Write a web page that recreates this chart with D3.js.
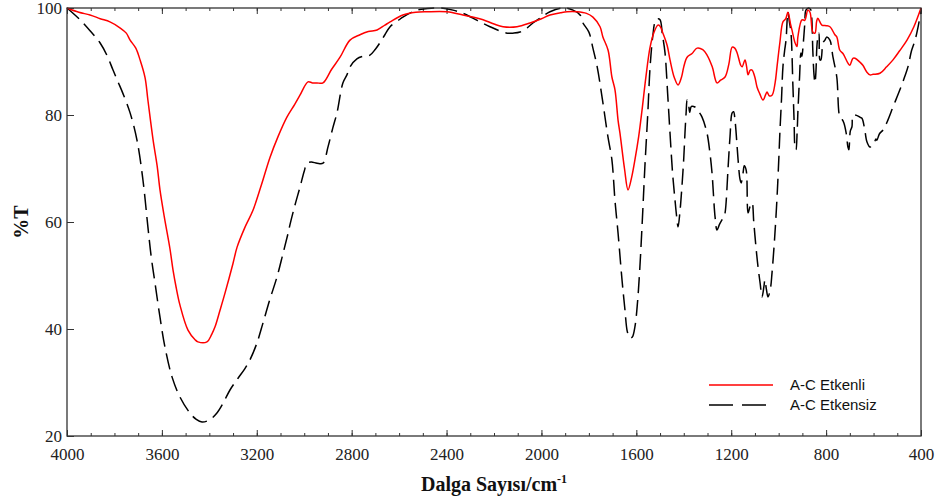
<!DOCTYPE html>
<html><head><meta charset="utf-8">
<script src="https://cdn.jsdelivr.net/npm/d3@7"></script>
<style>
body{margin:0;background:#fff;}
svg{display:block;}
</style></head>
<body>
<svg id="chart" width="940" height="504"></svg>
<script>
// ---------- DATA ----------
const seriesNames = ["A-C Etkenli", "A-C Etkensiz"];
const seriesColors = ["#ff0000", "#000000"];
const xTickValues = [4000, 3600, 3200, 2800, 2400, 2000, 1600, 1200, 800, 400];
const yTickValues = [20, 40, 60, 80, 100];
const xTitle = "Dalga Sayısı/cm";
const yTitle = "%T";

// Wavenumber (cm-1), %T pairs
const etkenliWn = [4000,3950,3903,3860,3819,3777,3750,3734,3710,3692,3671,3659,3637,3620,3608,3590,3566,3553,3540,3524,3490,3460,3448,3410,3390,3376,3355,3334,3300,3283,3250,3216,3180,3144,3110,3073,3040,3018,2984,2965,2946,2921,2885,2849,2807,2765,2730,2693,2660,2638,2584,2530,2483,2398,2331,2290,2246,2200,2162,2103,2048,2000,1964,1920,1892,1850,1810,1783,1753,1741,1719,1703,1690,1677,1669,1650,1635,1620,1606,1590,1576,1560,1542,1525,1509,1500,1488,1470,1458,1440,1424,1410,1400,1386,1365,1344,1320,1302,1280,1260,1245,1226,1210,1196,1185,1175,1160,1154,1142,1135,1129,1120,1112,1100,1091,1080,1066,1055,1049,1040,1028,1015,1007,995,982,970,961,950,944,931,923,919,902,890,877,868,856,847,840,835,818,800,784,763,755,742,729,708,700,687,678,658,645,628,615,602,573,545,518,490,459,430,400];
const etkenliT  = [100,99.2,98.7,98.0,97.4,96.3,95.3,94,92.5,90.3,87,82.8,75.3,70.5,66,61,55,51,47.8,44.5,39.8,38,37.6,37.6,39,40.4,43.5,46.7,52.3,55.3,59,62.2,67,72.1,76,79.6,82,83.7,86.2,86,86,86,88.5,90.8,94,95,95.6,95.9,96.8,97.4,98.7,99.2,99.3,99.3,98.7,98.3,97.8,97.0,96.5,96.5,97.2,98,98.7,99.1,99.3,99.3,99.0,98.3,96.5,94.6,92.1,87.1,84.7,79,76.6,70,66,68.3,71.6,76,80.9,87,92.7,95.5,96.8,96.6,95.3,93,90.3,87,85.6,87,89,90.8,91.5,92.5,92.2,91.2,89,86,86.5,87.1,89.5,92.7,92.5,91.6,89.3,89,90.3,89,87.5,88.4,88.4,87,85.2,84,82.8,83.8,84.3,83.6,83.7,86,89,93.5,97.4,98,99.2,97,95.9,93.5,92.8,94.6,97.8,97.7,99.6,99.2,95.5,95.3,97.5,98.1,96.8,96.7,96.5,95,94.6,92.1,91.5,89.7,89.3,90.6,90.6,89.9,89.3,88,87.5,87.6,87.8,89,90.3,92,94,96.5,100];

const etkensizWn = [4000,3945,3900,3861,3830,3806,3785,3764,3734,3705,3680,3659,3645,3629,3608,3587,3557,3524,3482,3455,3431,3400,3368,3340,3313,3279,3250,3229,3200,3174,3145,3115,3090,3068,3060,3040,3018,3000,2988,2970,2946,2921,2900,2880,2862,2837,2820,2807,2778,2750,2723,2700,2681,2660,2638,2600,2584,2525,2480,2428,2373,2330,2289,2250,2217,2180,2145,2120,2090,2060,2036,2000,1964,1909,1867,1837,1825,1800,1783,1765,1745,1720,1703,1690,1677,1660,1648,1638,1627,1617,1606,1595,1585,1574,1564,1552,1542,1530,1521,1510,1500,1490,1479,1468,1458,1447,1437,1430,1424,1416,1408,1400,1395,1390,1386,1380,1375,1368,1353,1340,1323,1302,1290,1281,1268,1260,1250,1239,1230,1225,1213,1205,1196,1190,1184,1175,1171,1163,1158,1150,1145,1137,1129,1120,1112,1105,1095,1087,1078,1070,1062,1058,1052,1045,1035,1028,1017,1007,999,995,988,982,975,969,961,955,948,940,935,931,927,922,919,912,906,902,897,890,885,873,864,860,856,851,847,843,839,835,830,826,822,813,805,797,784,771,755,742,733,725,715,708,704,698,691,687,678,665,658,649,638,628,615,607,600,590,586,575,560,540,518,489,470,455,440,425,410,400];
const etkensizT  = [100,97.8,95.6,93.5,91,88.4,86.2,84,80.4,75.3,67.9,59.1,53.5,48.6,42.2,36.6,31,27.3,24.3,23.1,22.6,23,24.3,26.3,28.6,30.8,32.6,34.2,37.3,41.1,45.5,49.7,54,57.9,59.5,63,66.5,69.5,71,71.2,71,71,74,77.5,80.4,86,87.5,89,90.5,91,91.2,92.3,93.5,95,96.5,97.8,98.3,99.6,99.9,100,99.6,99,98.1,97.2,96.5,95.8,95.3,95.3,95.5,96.3,97.2,98.3,99.3,100,99.6,98.7,97.2,95.5,92.5,89,83.5,76,71.6,64,57.9,49,43.6,39.5,38.3,38.5,40.4,45,51.6,61,70.3,80,89,95,97.4,98,97.8,95,91.6,84,76.6,69,64.1,61,59.1,62,66.5,72,76.6,80.5,82.8,82,80.5,81.6,81.5,80.8,79.6,76.6,73,69.2,60.9,58.5,59.5,60.4,61,62,70.3,76,80.4,80.6,79,74,71.6,68,67.3,69.2,70.5,69.7,61.7,63,63.6,60,55,51.6,48.5,46,48,49.2,47.5,46,47.5,50.5,57,64.5,72.2,76.6,83,89,92,94,99.3,97.5,95.3,85.5,79,74,73.5,77,80.5,87,91.6,91,93,97,99.6,100,99.6,97.8,92,87.5,86,88,92.7,94.5,95.3,90.3,90.3,93.5,94,94.6,94,90.8,87.1,79.6,79.2,78.5,76.5,74,73.5,77,77.8,80,80,79.8,79.6,79.4,77.5,75,74,74.4,74.5,75.5,75.3,76.5,77.2,79,81.5,84.7,87,89,92,94,97,99.6];

// ---------- LAYOUT ----------
const svg = d3.select("#chart");
const m = {left: 67, right: 921, top: 8, bottom: 436};
const x = d3.scaleLinear().domain([4000, 400]).range([m.left, m.right]);
const y = d3.scaleLinear().domain([20, 100]).range([m.bottom, m.top]);

const serif = "'Liberation Serif','Times New Roman',Times,serif";
const sans = "'Liberation Sans',Arial,Helvetica,sans-serif";

// minor ticks
const minorTicks = d3.range(4000, 399, -100);
const gMinB = svg.append("g").attr("transform", `translate(0,${m.bottom})`)
  .call(d3.axisBottom(x).tickValues(minorTicks).tickSize(-3).tickFormat(""));
const gMinT = svg.append("g").attr("transform", `translate(0,${m.top})`)
  .call(d3.axisTop(x).tickValues(minorTicks).tickSize(-3).tickFormat(""));
const gB = svg.append("g").attr("transform", `translate(0,${m.bottom})`)
  .call(d3.axisBottom(x).tickValues(xTickValues).tickSize(-6).tickPadding(12).tickFormat(d3.format("d")));
const gT = svg.append("g").attr("transform", `translate(0,${m.top})`)
  .call(d3.axisTop(x).tickValues(xTickValues).tickSize(-6).tickFormat(""));
const gL = svg.append("g").attr("transform", `translate(${m.left},0)`)
  .call(d3.axisLeft(y).tickValues(yTickValues).tickSize(-7).tickPadding(5).tickFormat(d3.format("d")));

[gMinB, gMinT, gB, gT, gL].forEach(g => {
  g.attr("font-family", null);
  g.select(".domain").remove();
  g.selectAll("line").attr("stroke", "#333").attr("stroke-width", 1);
  g.selectAll("text").attr("font-family", serif).attr("font-size", 17).attr("fill", "#222");
});
gL.selectAll("text").attr("dy", "0.35em");

// series
const line = d3.line().x(d => x(d[0])).y(d => y(d[1])).curve(d3.curveCatmullRom.alpha(0.5));
const etkenli = etkenliWn.map((w, i) => [w, etkenliT[i]]);
const etkensiz = etkensizWn.map((w, i) => [w, etkensizT[i]]);

svg.append("path").datum(etkensiz).attr("d", line)
  .attr("fill", "none").attr("stroke", seriesColors[1]).attr("stroke-width", 1.5)
  .attr("stroke-dasharray", "16,7");
svg.append("path").datum(etkenli).attr("d", line)
  .attr("fill", "none").attr("stroke", seriesColors[0]).attr("stroke-width", 1.5);

// frame
svg.append("rect").attr("x", m.left).attr("y", m.top)
  .attr("width", m.right - m.left).attr("height", m.bottom - m.top)
  .attr("fill", "none").attr("stroke", "#333").attr("stroke-width", 1.3);

// titles
const xt = svg.append("text").attr("x", 494).attr("y", 491)
  .attr("text-anchor", "middle").attr("font-family", serif).attr("font-weight", "bold")
  .attr("font-size", 20).attr("fill", "#111");
xt.append("tspan").text(xTitle);
xt.append("tspan").attr("dy", -8).attr("font-size", 12).text("-1");

svg.append("text").attr("transform", "translate(28,222) rotate(-90)")
  .attr("text-anchor", "middle").attr("font-family", serif).attr("font-weight", "bold")
  .attr("font-size", 20).attr("fill", "#111").text(yTitle);

// legend
const legend = svg.append("g");
const legY = [385, 405];
legend.append("line").attr("x1", 709).attr("x2", 773).attr("y1", legY[0]).attr("y2", legY[0])
  .attr("stroke", seriesColors[0]).attr("stroke-width", 1.5);
legend.append("line").attr("x1", 709).attr("x2", 766).attr("y1", legY[1]).attr("y2", legY[1])
  .attr("stroke", seriesColors[1]).attr("stroke-width", 1.5).attr("stroke-dasharray", "24,9");
seriesNames.forEach((n, i) => {
  legend.append("text").attr("x", 790).attr("y", legY[i]).attr("dy", "0.35em")
    .attr("font-family", sans).attr("font-size", 15).attr("fill", "#111").text(n);
});
</script>
</body></html>
